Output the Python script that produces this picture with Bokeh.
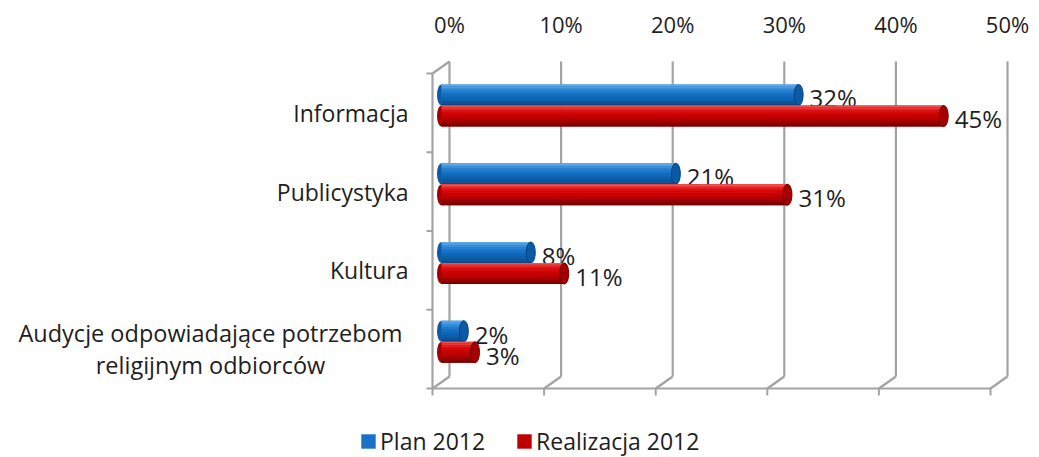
import numpy as np
from bokeh.plotting import figure
from bokeh.models import Range1d, FixedTicker, PrintfTickFormatter, Legend, LegendItem
from bokeh.core.properties import value
from bokeh.embed import file_html
from bokeh.resources import INLINE

# ---------------- data ----------------
categories = ["Informacja", "Publicystyka", "Kultura",
              "Audycje odpowiadające potrzebom\nreligijnym odbiorców"]
plan_2012 = [32, 21, 8, 2]
realizacja_2012 = [45, 31, 11, 3]
series_names = ["Plan 2012", "Realizacja 2012"]
x_ticks = [0, 10, 20, 30, 40, 50]

# ---------------- geometry / style ----------------
W, H = 1039, 457
TOP = 58
PX_PER_PCT = 11.16
PX_PER_BAND = 78.75
X0 = 449      # canvas x of 0 % on back wall
Y0 = 61       # canvas y of top of back wall
FONT = "Open Sans"
TXT = "#1e1e1e"
GRID = "#a3a3a3"

DX = -17 / PX_PER_PCT       # depth offset (front = back + DX, DY)
DY = 12 / PX_PER_BAND
BDX = -8 / PX_PER_PCT       # bars sit at mid depth
BAR_H = 21 / PX_PER_BAND
offsets = [-0.075, 0.192]

blue_stops = ["#62abe8", "#2a84d4", "#116dc2", "#0c5ea9", "#0a4a87"]
red_stops = ["#f05050", "#e00d0d", "#c80000", "#a80000", "#730000"]
base_cols = ["#1a72c6", "#c00000"]
cap_cols = ["#0b5aa5", "#a50000"]
edge_cols = ["#08427c", "#6e0000"]


def hex2rgb(h):
    h = h.lstrip("#")
    return np.array([int(h[i:i + 2], 16) for i in (0, 2, 4)], float)


def gradient(stops, n):
    cols = [hex2rgb(s) for s in stops]
    out = []
    for k in range(n):
        t = k / (n - 1) * (len(cols) - 1)
        i = min(int(t), len(cols) - 2)
        f = t - i
        c = cols[i] * (1 - f) + cols[i + 1] * f
        out.append("#%02x%02x%02x" % tuple(int(round(v)) for v in c))
    return out


n = len(categories)
p = figure(width=W, height=H, output_backend="svg", toolbar_location=None,
           x_range=Range1d(-X0 / PX_PER_PCT, (W - X0) / PX_PER_PCT),
           y_range=Range1d((H - Y0) / PX_PER_BAND, (TOP - Y0) / PX_PER_BAND),
           x_axis_location="above", y_axis_location=None,
           min_border_left=0, min_border_right=0, min_border_bottom=0,
           min_border_top=TOP, outline_line_color=None)
p.xgrid.visible = False
p.ygrid.visible = False

ax = p.xaxis[0]
ax.ticker = FixedTicker(ticks=x_ticks)
ax.formatter = PrintfTickFormatter(format="%d%%")
ax.axis_line_color = None
ax.major_tick_line_color = None
ax.minor_tick_line_color = None
ax.major_label_text_font = FONT
ax.major_label_text_font_size = "22px"
ax.major_label_text_color = TXT
ax.major_label_standoff = 14

# ---------------- 3-D frame ----------------
xt = np.array(x_ticks, float)
p.segment(x0=xt, y0=0, x1=xt, y1=n, line_color=GRID, line_width=2.2)
p.segment(x0=xt, y0=n, x1=xt + DX, y1=n + DY, line_color=GRID, line_width=2.2)
p.segment(x0=[xt[0] + DX], y0=[n + DY], x1=[xt[-1] + DX], y1=[n + DY],
          line_color=GRID, line_width=2.2)
p.segment(x0=xt + DX, y0=n + DY, x1=xt + DX, y1=n + DY + 7 / PX_PER_BAND,
          line_color=GRID, line_width=2)
p.segment(x0=[xt[0] + DX], y0=[DY], x1=[xt[0] + DX], y1=[n + DY],
          line_color=GRID, line_width=2.2)
p.segment(x0=[xt[0] + DX], y0=[DY], x1=[xt[0]], y1=[0],
          line_color=GRID, line_width=2.2)
bounds = np.arange(n + 1)
p.segment(x0=xt[0] + DX - 6 / PX_PER_PCT, y0=bounds + DY, x1=xt[0] + DX,
          y1=bounds + DY, line_color=GRID, line_width=2)

# ---------------- cylinders ----------------
legend_items = []
NS = 12
for s, (vals, stops) in enumerate([(plan_2012, blue_stops), (realizacja_2012, red_stops)]):
    vals = np.array(vals, float)
    yc = np.arange(n) + 0.5 + offsets[s]
    right = vals + BDX
    left = np.full(n, BDX)
    # left rounded end
    p.ellipse(x=left, y=yc, width=9, height=21, width_units="screen",
              height_units="screen", fill_color=cap_cols[s], line_color=None)
    base = p.hbar(y=yc, left=left, right=right, height=BAR_H,
                  fill_color=base_cols[s], line_color=None)
    legend_items.append(LegendItem(label=series_names[s], renderers=[base]))
    cols = gradient(stops, NS)
    sh = BAR_H / NS
    for k in range(NS):
        p.hbar(y=yc - BAR_H / 2 + sh * (k + 0.5), left=left, right=right,
               height=sh * 1.05, fill_color=cols[k], line_color=None)
    # right end face
    p.ellipse(x=right, y=yc, width=9, height=21, width_units="screen",
              height_units="screen", fill_color=cap_cols[s],
              line_color=edge_cols[s], line_width=1)
    p.text(x=right, y=yc, text=["%d%%" % v for v in vals], x_offset=11, y_offset=3,
           text_font=value(FONT), text_font_size="24px", text_color=TXT,
           text_baseline="middle", text_align="left")

# ---------------- category labels ----------------
single = [i for i, c in enumerate(categories) if "\n" not in c]
multi = [i for i, c in enumerate(categories) if "\n" in c]
p.text(x=[(408 - X0) / PX_PER_PCT] * len(single),
       y=[i + 0.5 + DY for i in single], text=[categories[i] for i in single],
       text_font=value(FONT), text_font_size="23px", text_color=TXT,
       text_align="right", text_baseline="middle")
p.text(x=[(210 - X0) / PX_PER_PCT] * len(multi),
       y=[i + 0.5 + DY for i in multi], text=[categories[i] for i in multi],
       text_font=value(FONT), text_font_size="23.5px", text_color=TXT,
       text_align="center", text_baseline="middle", text_line_height=1.0)

# ---------------- legend ----------------
legend = Legend(items=legend_items, orientation="horizontal", location=(359, 0),
                glyph_width=18, glyph_height=18, label_standoff=3, spacing=30,
                padding=0, margin=0, border_line_color=None,
                background_fill_alpha=0, label_text_font=FONT,
                label_text_font_size="23px", label_text_color=TXT)
p.add_layout(legend, "center")

open("out.html", "w").write(file_html(p, INLINE))
